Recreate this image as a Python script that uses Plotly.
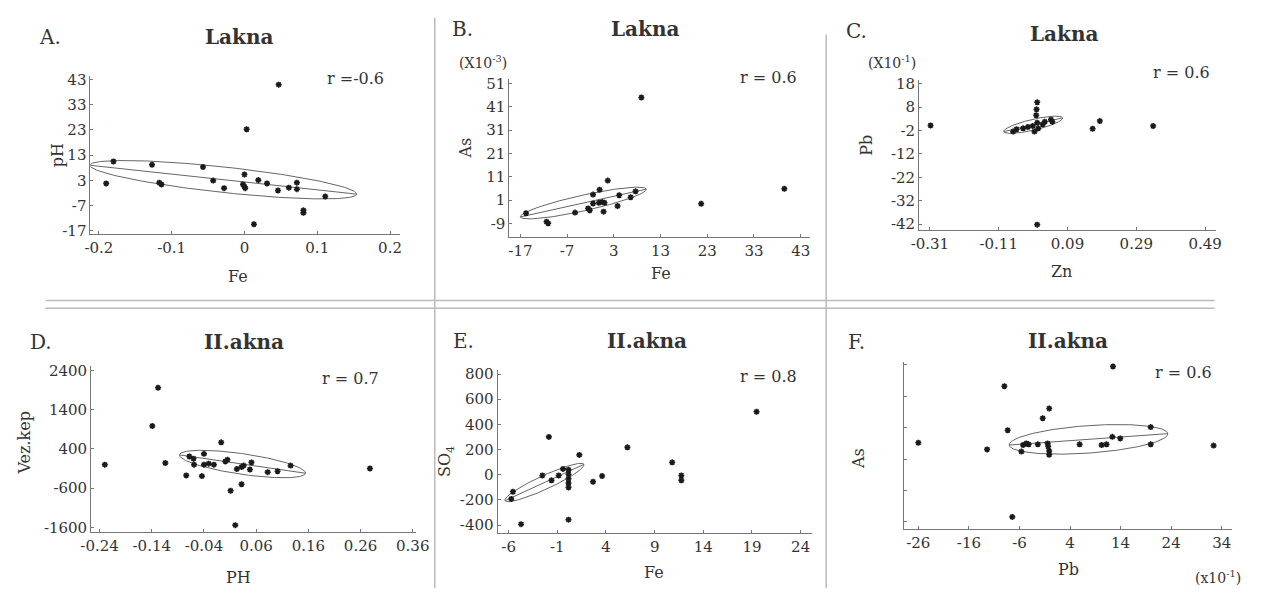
import numpy as np
import plotly.graph_objects as go

W, H = 1261, 594

# ---------------- data ----------------
# Panel A: Lakna, Fe vs pH
A_x = [0.047, 0.003, -0.18, -0.19, -0.127, -0.117, -0.114, -0.057, -0.043, -0.028, -0.002, 0.0, 0.0, 0.001,
       0.019, 0.031, 0.046, 0.061, 0.072, 0.072, 0.081, 0.081, 0.111, 0.013]
A_y = [41.0, 23.3, 10.5, 1.8, 9.2, 2.1, 1.4, 8.3, 2.9, -0.1, 1.4, 5.3, 0.5, -0.1,
       3.1, 1.8, -1.0, 0.1, 2.1, -0.5, -8.9, -9.9, -3.4, -14.4]
A_xticks = [-0.2, -0.1, 0, 0.1, 0.2]
A_xlabels = ["-0.2", "-0.1", "0", "0.1", "0.2"]
A_yticks = [-17, -7, 3, 13, 23, 33, 43]
A_ylabels = ["-17", "-7", "3", "13", "23", "33", "43"]
A_ell = [(-0.029, 3.26), (0.1833, -5.73), (-0.00189, -5.03)]

# Panel B: Lakna, Fe vs As
B_x = [8.9, 1.7, -0.05, -1.45, 4.15, 6.6, 7.65, -15.8, -11.4, -11.05, -5.3, -2.5, -2.15, -1.45,
       -0.2, 0.5, 1.0, 0.8, 3.8, 21.7, 39.5]
B_y = [45.0, 9.4, 5.5, 3.4, 3.1, 2.3, 4.8, -4.6, -8.2, -8.9, -4.3, -2.5, -3.3, -0.4,
       -0.1, 0.2, -0.1, -3.9, -1.5, -0.5, 5.9]
B_xticks = [-17, -7, 3, 13, 23, 33, 43]
B_xlabels = ["-17", "-7", "3", "13", "23", "33", "43"]
B_yticks = [-9, 1, 11, 21, 31, 41, 51]
B_ylabels = ["-9", "1", "11", "21", "31", "41", "51"]
B_ell = [(-3.53, -0.2), (13.49, 5.97), (0.36, -3.28)]

# Panel C: Lakna, Zn vs Pb
C_x = [-0.308, 0.002, 0.002, 0.163, 0.184, 0.339, -0.058, -0.039, -0.025, -0.011, -0.001, 0.002,
       0.005, 0.018, 0.024, 0.042, 0.046, -0.006, -0.068, 0.0]
C_y = [0.1, 10.0, -42.2, -1.3, 2.0, -0.1, -1.5, -1.1, -0.5, -0.1, 4.5, 1.3,
       -1.1, 0.6, 1.7, 2.6, 1.7, -2.5, -2.5, 7.0]
C_xticks = [-0.31, -0.11, 0.09, 0.29, 0.49]
C_xlabels = ["-0.31", "-0.11", "0.09", "0.29", "0.49"]
C_yticks = [-42, -32, -22, -12, -2, 8, 18]
C_ylabels = ["-42", "-32", "-22", "-12", "-2", "8", "18"]
C_ell = [(-0.0098, 0.43), (0.0855, 2.93), (0.00356, -2.24)]

# Panel D: II.akna, PH vs Vez.kep
D_x = [-0.128, -0.139, -0.007, -0.23, -0.114, -0.074, -0.044, 0.011, 0.032, 0.020, 0.278,
       -0.068, -0.060, -0.040, -0.059, -0.040, -0.031, -0.021, 0.001, 0.005, 0.023, 0.032,
       0.036, 0.051, 0.048, 0.082, 0.101, 0.126]
D_y = [1958, 983, 567, 0, 42, -275, -292, -667, -500, -1542, -100,
       207, 150, 275, 0, 0, 25, 0, 82, 125, -110, -60,
       -25, 57, -125, -192, -167, -25]
D_xticks = [-0.24, -0.14, -0.04, 0.06, 0.16, 0.26, 0.36]
D_xlabels = ["-0.24", "-0.14", "-0.04", "0.06", "0.16", "0.26", "0.36"]
D_yticks = [-1600, -600, 400, 1400, 2400]
D_ylabels = ["-1600", "-600", "400", "1400", "2400"]
D_ell = [(0.0337, 15), (0.1207, -234), (-0.00284, -260)]

# Panel E: II.akna, Fe vs SO4
E_x = [19.47, -1.87, 6.2, 1.26, 10.8, 11.74, 11.74, 2.67, 3.6, -4.72, 0.15, -5.56, -5.73,
       -2.54, -1.6, -0.86, -0.42, 0.15, 0.15, 0.15, 0.15, 0.15]
E_y = [501, 301, 218, 158, 99, -5, -44, -55, -10, -392, -356, -135, -192,
       -5, -44, -5, 47, 40, 5, -30, -65, -100]
E_xticks = [-6, -1, 4, 9, 14, 19, 24]
E_xlabels = ["-6", "-1", "4", "9", "14", "19", "24"]
E_yticks = [-400, -200, 0, 200, 400, 600, 800]
E_ylabels = ["-400", "-200", "0", "200", "400", "600", "800"]
E_ell = [(-2.32, -61), (4.05, 144.1), (0.295, -49.6)]

# Panel F: II.akna, Pb vs As (y axis without labels)
F_x = [12.5, -8.98, -0.11, -1.4, -8.33, -26.0, -12.4, 32.4, -7.42, -5.28, -4.64, -4.19, -5.61,
       -2.37, -0.43, -0.31, -0.12, -0.12, 5.9, 10.25, 11.22, 12.38, 13.94, 19.96, 19.96]
F_y = [4.95, 4.32, 3.61, 3.30, 2.92, 2.52, 2.31, 2.43, 0.16, 2.45, 2.50, 2.47, 2.24,
       2.47, 2.50, 2.40, 2.26, 2.14, 2.47, 2.45, 2.47, 2.71, 2.66, 3.02, 2.47]
F_xticks = [-26, -16, -6, 4, 14, 24, 34]
F_xlabels = ["-26", "-16", "-6", "4", "14", "24", "34"]
F_yticks = [0, 1, 2, 3, 4, 5]
F_ylabels = None
F_ell = [(7.65, 2.63), (15.69, 0.181), (0.194, -0.436)]

# ---------------- layout of panels (pixel boxes, ranges) ----------------
panels = [
    dict(x=A_x, y=A_y, xt=A_xticks, xl=A_xlabels, yt=A_yticks, yl=A_ylabels, ell=A_ell,
         box=(81, 397, 72, 233), xr=[-0.2116, 0.2143], yr=[-18.17, 44.56]),
    dict(x=B_x, y=B_y, xt=B_xticks, xl=B_xlabels, yt=B_yticks, yl=B_ylabels, ell=B_ell,
         box=(508, 815, 75, 236), xr=[-19.37, 45.1], yr=[-14.6, 53.1]),
    dict(x=C_x, y=C_y, xt=C_xticks, xl=C_xlabels, yt=C_yticks, yl=C_ylabels, ell=C_ell,
         box=(925.7, 1228.3, 76, 229.3), xr=[-0.3414, 0.5214], yr=[-44.5, 19.7]),
    dict(x=D_x, y=D_y, xt=D_xticks, xl=D_xlabels, yt=D_yticks, yl=D_ylabels, ell=D_ell,
         box=(81.7, 413.3, 368.3, 536.7), xr=[-0.2562, 0.3671], yr=[-1710, 2500]),
    dict(x=E_x, y=E_y, xt=E_xticks, xl=E_xlabels, yt=E_yticks, yl=E_ylabels, ell=E_ell,
         box=(496, 816.7, 372.3, 537.7), xr=[-7.14, 25.18], yr=[-460, 829]),
    dict(x=F_x, y=F_y, xt=F_xticks, xl=F_xlabels, yt=F_yticks, yl=F_ylabels, ell=F_ell,
         box=(910, 1245, 363.3, 534.3), xr=[-28.9, 36.1], yr=[-0.2375, 5.106]),
]

FONT = "DejaVu Serif"
TXT = "#333333"
AX = "#777777"

fig = go.Figure()
theta = np.linspace(0, 2 * np.pi, 200)

for i, p in enumerate(panels, start=1):
    xa = "x" if i == 1 else f"x{i}"
    ya = "y" if i == 1 else f"y{i}"
    (cx, cy), (ux, uy), (vx, vy) = p["ell"]
    ex = cx + ux * np.cos(theta) + vx * np.sin(theta)
    ey = cy + uy * np.cos(theta) + vy * np.sin(theta)
    fig.add_trace(go.Scatter(x=ex, y=ey, mode="lines", xaxis=xa, yaxis=ya,
                             line=dict(color="#666666", width=1), hoverinfo="skip"))
    fig.add_trace(go.Scatter(x=[cx - ux, cx + ux], y=[cy - uy, cy + uy], mode="lines",
                             xaxis=xa, yaxis=ya, line=dict(color="#666666", width=1),
                             hoverinfo="skip"))
    fig.add_trace(go.Scatter(x=p["x"], y=p["y"], mode="markers", xaxis=xa, yaxis=ya,
                             marker=dict(symbol="asterisk-open", size=5, color="#1a1a1a",
                                         line=dict(width=1.6, color="#1a1a1a"))))
    x0, x1, y0, y1 = p["box"]
    common = dict(showgrid=False, zeroline=False, showline=True, linecolor=AX, linewidth=1,
                  ticks="inside", ticklen=3, tickcolor=AX, tickmode="array",
                  tickfont=dict(family=FONT, size=15, color=TXT))
    fig.layout[("xaxis" if i == 1 else f"xaxis{i}")] = dict(
        domain=[x0 / W, x1 / W], anchor=ya, range=p["xr"], tickvals=p["xt"], ticktext=p["xl"],
        **common)
    yspec = dict(domain=[1 - y1 / H, 1 - y0 / H], anchor=xa, range=p["yr"], tickvals=p["yt"], **common)
    if p["yl"] is None:
        yspec["showticklabels"] = False
    else:
        yspec["ticktext"] = p["yl"]
    fig.layout[("yaxis" if i == 1 else f"yaxis{i}")] = yspec

# ---------------- text ----------------
def ann(px, py, text, size=16, angle=0, bold=False):
    fig.add_annotation(x=px / W, y=1 - py / H, xref="paper", yref="paper", showarrow=False,
                       text=f"<b>{text}</b>" if bold else text, textangle=angle,
                       xanchor="center", yanchor="middle",
                       font=dict(family=FONT, size=size, color=TXT))

letters = [("A.", 40, 33), ("B.", 460, 24), ("C.", 862, 27), ("D.", 31, 343), ("E.", 461, 342), ("F.", 862, 343)]
for t, x, y in letters:
    ann(x, y, t, size=20)

titles = [("Lakna", 232, 33), ("Lakna", 646, 24), ("Lakna", 1073, 30),
          ("II.akna", 238, 343), ("II.akna", 648, 342), ("II.akna", 1077, 342)]
for t, x, y in titles:
    ann(x, y, t, size=20, bold=True)

rtexts = [("r =-0.6", 351, 75), ("r = 0.6", 772, 74), ("r = 0.6", 1193, 69),
          ("r = 0.7", 346, 381), ("r = 0.8", 772, 378), ("r = 0.6", 1195, 374)]
for t, x, y in rtexts:
    ann(x, y, t, size=16)

xtitles = [("Fe", 231, 277), ("Fe", 663, 274), ("Zn", 1071, 272),
           ("PH", 232, 583), ("Fe", 655, 578), ("Pb", 1078, 575)]
for t, x, y in xtitles:
    ann(x, y, t, size=16)

ytitles = [("pH", 47, 153), ("As", 463, 146), ("Pb", 872, 143),
           ("Vez.kep", 14, 446), ("SO<sub>4</sub>", 443, 465), ("As", 864, 462)]
for t, x, y in ytitles:
    ann(x, y, t, size=16, angle=-90)

ann(481, 58, "(X10<sup>-3</sup>)", size=14)
ann(898, 58, "(X10<sup>-1</sup>)", size=14)
ann(1230, 583, "(x10<sup>-1</sup>)", size=14)

# ---------------- separators ----------------
sep = dict(color="#bbbbbb", width=1.5)
shapes = [
    dict(type="line", xref="paper", yref="paper", x0=432 / W, x1=432 / W, y0=1 - 13 / H, y1=0, line=sep),
    dict(type="line", xref="paper", yref="paper", x0=831 / W, x1=831 / W, y0=1 - 30 / H, y1=0, line=sep),
    dict(type="line", xref="paper", yref="paper", x0=35 / W, x1=1227 / W, y0=1 - 301 / H, y1=1 - 301 / H, line=sep),
    dict(type="line", xref="paper", yref="paper", x0=35 / W, x1=1227 / W, y0=1 - 309 / H, y1=1 - 309 / H, line=sep),
]
fig.update_layout(shapes=shapes, width=W, height=H, margin=dict(l=0, r=0, t=0, b=0),
                  paper_bgcolor="white", plot_bgcolor="white", showlegend=False)

fig.write_html("out.html")
